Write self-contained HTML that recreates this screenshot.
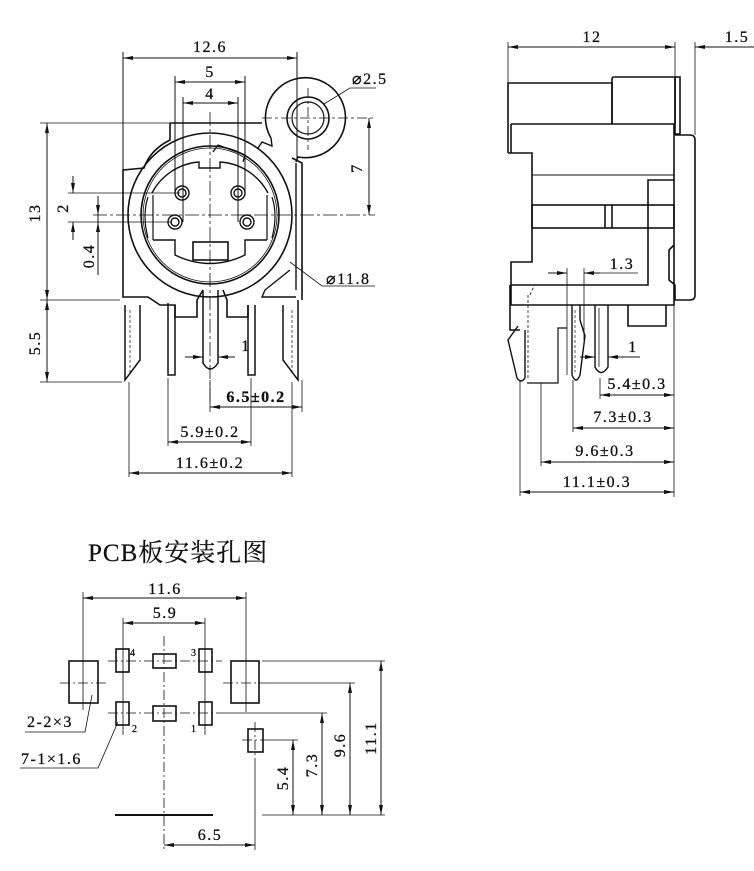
<!DOCTYPE html>
<html><head><meta charset="utf-8"><style>
html,body{margin:0;padding:0;background:#fff;}
svg{display:block}
text{font-family:"Liberation Serif","DejaVu Serif",serif;font-size:16px;fill:#111;letter-spacing:1.5px;stroke:#111;stroke-width:0.3}
</style></head><body>
<svg width="754" height="871" viewBox="0 0 754 871" xmlns="http://www.w3.org/2000/svg">
<defs>
<marker id="a" viewBox="0 0 10 4" refX="10" refY="2" markerWidth="10" markerHeight="4" orient="auto-start-reverse" markerUnits="userSpaceOnUse"><path d="M0,0 L10,2 L0,4z" fill="#111"/></marker>
</defs>
<g stroke="#111" stroke-width="1" fill="none">
<!-- ===== FRONT VIEW ===== -->
<line x1="123" y1="58" x2="297" y2="58" marker-start="url(#a)" marker-end="url(#a)"/>
<line x1="123" y1="52" x2="123" y2="172"/><line x1="297" y1="52" x2="297" y2="160"/>
<line x1="175" y1="82" x2="245" y2="82" marker-start="url(#a)" marker-end="url(#a)"/>
<line x1="183" y1="103" x2="238" y2="103" marker-start="url(#a)" marker-end="url(#a)"/>
<line x1="175" y1="76" x2="175" y2="195"/><line x1="245" y1="76" x2="245" y2="195"/>
<line x1="183" y1="97" x2="183" y2="222"/><line x1="238" y1="97" x2="238" y2="222"/>
<line x1="40" y1="123" x2="173" y2="123" stroke-width="0.8"/>
<line x1="40" y1="300" x2="120" y2="300" stroke-width="0.8"/>
<line x1="40" y1="382" x2="122" y2="382" stroke-width="0.8"/>
<line x1="47" y1="123" x2="47" y2="300" marker-start="url(#a)" marker-end="url(#a)"/>
<line x1="47" y1="300" x2="47" y2="382" marker-start="url(#a)" marker-end="url(#a)"/>
<line x1="68" y1="193" x2="180" y2="193" stroke-width="0.8"/>
<line x1="68" y1="222" x2="172" y2="222" stroke-width="0.8"/>
<line x1="73" y1="176" x2="73" y2="193" marker-end="url(#a)"/>
<line x1="73" y1="240" x2="73" y2="222" marker-end="url(#a)"/>
<line x1="98" y1="196" x2="98" y2="215" marker-end="url(#a)"/>
<line x1="98" y1="232" x2="98" y2="222" marker-end="url(#a)"/>
<line x1="98" y1="215" x2="98" y2="275"/>
<line x1="93" y1="215" x2="375" y2="215" stroke-dasharray="14,3,3,3" stroke-width="0.8"/>
<line x1="210" y1="112" x2="210" y2="405" stroke-dasharray="14,3,3,3" stroke-width="0.8"/>
<line x1="262" y1="118" x2="375" y2="118" stroke-dasharray="10,3,3,3" stroke-width="0.8"/>
<line x1="369" y1="118" x2="369" y2="215" marker-start="url(#a)" marker-end="url(#a)"/>
<line x1="308" y1="88" x2="308" y2="150" stroke-dasharray="10,3,3,3" stroke-width="0.8"/>
<!-- ring -->
<path d="M271,138 A40,40 0 1 1 298,157 L296,162" stroke-width="1.6"/>
<path d="M271,138 L272,146 L262,142 L258,148" stroke-width="1.4"/>
<circle cx="308" cy="118" r="21" stroke-width="1.6"/>
<circle cx="308" cy="118" r="16" stroke-width="1.2"/>
<polyline points="324,104 350,88 376,88" stroke-width="0.8"/>
<!-- body -->
<path d="M170,123 L262,123 M170,123 L170,140 Q150,150 144,168 L123,170 L123,297 L148,297 L160,305 L175,305 L175,317 L197,317 L197,300 L203,290 M223,290 L227,300 L227,317 L248,317 L248,305" stroke-width="1.6"/>
<path d="M292,158 L302,163 L302,300" stroke-width="1.6"/>
<path d="M296,163 L296,290 M290,270 L265,290 L262,297 L296,297" stroke-width="1.4"/>
<circle cx="210" cy="215" r="82" stroke-width="1.6"/>
<circle cx="210" cy="215" r="69" stroke-width="1.6"/>
<circle cx="210" cy="215" r="67" stroke-width="0.8"/>
<path d="M152,193 A58,58 0 0 1 199,162 L199,168 L220,168 L220,162 A58,58 0 0 1 268,193" stroke-width="1.4"/>
<path d="M153,240 L175,240 L175,255 Q210,272 245,255 L245,240 L267,240" stroke-width="1.4"/>
<path d="M153,195 L153,240 M267,195 L267,240 M148,197 Q142,215 148,238 M272,197 Q278,215 272,238" stroke-width="1.2"/>
<path d="M213,152 L218,145 L245,155 L243,162" stroke-width="1.3"/>
<rect x="193" y="242" width="35" height="18" stroke-width="1.6"/>
<g stroke-width="1.4">
<circle cx="182" cy="193" r="7"/><circle cx="182" cy="193" r="4"/>
<circle cx="238" cy="193" r="7"/><circle cx="238" cy="193" r="4"/>
<circle cx="175" cy="222" r="7"/><circle cx="175" cy="222" r="4"/>
<circle cx="247" cy="222" r="7"/><circle cx="247" cy="222" r="4"/>
</g>
<path d="M203,290 L203,363 Q210,375 218,363 L218,290" stroke-width="1.5"/>
<path d="M125,305 L125,380 L140,360 L140,305" stroke-width="1.5"/>
<path d="M168,303 L168,375 L175,375 L175,305" stroke-width="1.5"/>
<path d="M248,305 L248,375 L255,375 L255,305" stroke-width="1.5"/>
<path d="M283,305 L283,360 L298,380 L298,300" stroke-width="1.5"/>
<line x1="130" y1="310" x2="130" y2="375" stroke-dasharray="3,2" stroke-width="0.7"/>
<line x1="292" y1="310" x2="292" y2="375" stroke-dasharray="3,2" stroke-width="0.7"/>
<line x1="185" y1="357" x2="203" y2="357" marker-end="url(#a)"/>
<line x1="235" y1="357" x2="218" y2="357" marker-end="url(#a)"/>
<polyline points="290,262 322,286 375,286" stroke-width="0.8"/>
<line x1="210" y1="380" x2="210" y2="412" stroke-width="0.8"/>
<line x1="302" y1="380" x2="302" y2="412" stroke-width="0.8"/>
<line x1="210" y1="407" x2="302" y2="407" marker-start="url(#a)" marker-end="url(#a)"/>
<line x1="168" y1="378" x2="168" y2="446" stroke-width="0.8"/>
<line x1="251" y1="378" x2="251" y2="446" stroke-width="0.8"/>
<line x1="168" y1="442" x2="251" y2="442" marker-start="url(#a)" marker-end="url(#a)"/>
<line x1="129" y1="382" x2="129" y2="477" stroke-width="0.8"/>
<line x1="292" y1="382" x2="292" y2="477" stroke-width="0.8"/>
<line x1="129" y1="473" x2="292" y2="473" marker-start="url(#a)" marker-end="url(#a)"/>

<!-- ===== SIDE VIEW ===== -->
<line x1="508" y1="47" x2="675" y2="47" marker-start="url(#a)" marker-end="url(#a)"/>
<line x1="508" y1="42" x2="508" y2="83" stroke-width="0.8"/>
<line x1="675" y1="42" x2="675" y2="76" stroke-width="0.8"/>
<line x1="695" y1="42" x2="695" y2="135" stroke-width="0.8"/>
<line x1="754" y1="47" x2="695" y2="47" marker-end="url(#a)"/>
<g stroke-width="1.6">
<path d="M508,153 L508,83 L612,83 L612,124"/>
<path d="M612,124 L612,79 Q612,77 614,77 L675,77 L675,124"/>
<rect x="675" y="77" width="5" height="57"/>
<path d="M511,124 L674,124 L674,285 M511,124 L511,153"/>
<path d="M508,153 L532,153 L532,262 L511,262 L511,285 L648,285 L648,180 L674,180"/>
<path d="M675,135 L690,135 Q695,135 695,140 L695,295 Q695,300 690,300 L675,300 L675,285 L669,280 L669,250 L674,245"/>
<line x1="532" y1="175" x2="674" y2="175" stroke-width="1"/>
<rect x="532" y="205" width="142" height="23"/>
<line x1="605" y1="205" x2="605" y2="228"/><line x1="612" y1="205" x2="612" y2="228"/>
<path d="M511,285 L511,305 L674,305 L674,285"/>
<path d="M510,285 L510,330 L520,330"/>
<path d="M628,305 L628,326 L666,326 L666,305"/>
</g>
<path d="M518,326 L508,340 L517,378 Q521,384 525,378 L525,330" stroke-width="1.4"/>
<path d="M530,295 L532,290 L535,285 M528,295 L528,380" stroke-dasharray="3,2" stroke-width="0.8"/>
<path d="M527,383 L558,383 L558,328 L567,328" stroke-width="1.2"/>
<path d="M572,305 L572,375 Q576,385 580,375 L585,336 L580,320 L580,305" stroke-width="1.4"/>
<path d="M595,305 L595,367 Q601,378 608,367 L608,305" stroke-width="1.4"/>
<line x1="599" y1="308" x2="599" y2="367" stroke-width="0.8"/>
<line x1="575" y1="310" x2="575" y2="372" stroke-dasharray="3,2" stroke-width="0.7"/>
<line x1="567" y1="268" x2="567" y2="375" stroke-width="0.8"/>
<line x1="584" y1="268" x2="584" y2="340" stroke-width="0.8"/>
<line x1="548" y1="273" x2="567" y2="273" marker-end="url(#a)"/>
<line x1="638" y1="273" x2="584" y2="273" stroke-width="0.8"/>
<line x1="600" y1="273" x2="584" y2="273" marker-end="url(#a)"/>
<line x1="580" y1="357" x2="595" y2="357" marker-end="url(#a)"/>
<line x1="640" y1="357" x2="608" y2="357" marker-end="url(#a)"/>
<line x1="674" y1="300" x2="674" y2="497" stroke-width="0.8"/>
<line x1="600" y1="378" x2="600" y2="399" stroke-width="0.8"/>
<line x1="600" y1="395" x2="674" y2="395" marker-start="url(#a)" marker-end="url(#a)"/>
<line x1="573" y1="380" x2="573" y2="432" stroke-width="0.8"/>
<line x1="573" y1="428" x2="674" y2="428" marker-start="url(#a)" marker-end="url(#a)"/>
<line x1="541" y1="383" x2="541" y2="466" stroke-width="0.8"/>
<line x1="541" y1="462" x2="674" y2="462" marker-start="url(#a)" marker-end="url(#a)"/>
<line x1="520" y1="380" x2="520" y2="496" stroke-width="0.8"/>
<line x1="520" y1="492" x2="674" y2="492" marker-start="url(#a)" marker-end="url(#a)"/>

<!-- ===== PCB VIEW ===== -->
<line x1="83" y1="598" x2="246" y2="598" marker-start="url(#a)" marker-end="url(#a)"/>
<line x1="83" y1="592" x2="83" y2="710" stroke-width="0.8"/>
<line x1="246" y1="592" x2="246" y2="712" stroke-width="0.8"/>
<line x1="123" y1="623" x2="205" y2="623" marker-start="url(#a)" marker-end="url(#a)"/>
<line x1="123" y1="618" x2="123" y2="735" stroke-width="0.8"/>
<line x1="205" y1="618" x2="205" y2="735" stroke-width="0.8"/>
<g stroke-width="1.6">
<rect x="69" y="661" width="29" height="42"/>
<rect x="231" y="661" width="28" height="42"/>
<rect x="116" y="649" width="13" height="23"/>
<rect x="199" y="649" width="13" height="23"/>
<rect x="153" y="654" width="23" height="14"/>
<rect x="116" y="702" width="13" height="23"/>
<rect x="199" y="702" width="13" height="23"/>
<rect x="153" y="706" width="23" height="15"/>
<rect x="248" y="729" width="15" height="23"/>
</g>
<g stroke-width="0.8" stroke-dasharray="10,3,2,3">
<line x1="108" y1="661" x2="222" y2="661"/>
<line x1="60" y1="683" x2="108" y2="683"/>
<line x1="223" y1="683" x2="268" y2="683"/>
<line x1="108" y1="713" x2="222" y2="713"/>
<line x1="242" y1="740" x2="268" y2="740"/>
<line x1="164" y1="636" x2="164" y2="850"/>
<line x1="255" y1="722" x2="255" y2="760"/>
</g>
<line x1="222" y1="713" x2="327" y2="713" stroke-width="0.8"/>
<line x1="268" y1="740" x2="298" y2="740" stroke-width="0.8"/>
<line x1="268" y1="683" x2="355" y2="683" stroke-width="0.8"/>
<line x1="262" y1="661" x2="385" y2="661" stroke-width="0.8"/>
<line x1="262" y1="815" x2="385" y2="815" stroke-width="0.8"/>
<line x1="115" y1="815" x2="213" y2="815" stroke-width="2"/>
<line x1="293" y1="740" x2="293" y2="815" marker-start="url(#a)" marker-end="url(#a)"/>
<line x1="322" y1="713" x2="322" y2="815" marker-start="url(#a)" marker-end="url(#a)"/>
<line x1="350" y1="683" x2="350" y2="815" marker-start="url(#a)" marker-end="url(#a)"/>
<line x1="381" y1="661" x2="381" y2="815" marker-start="url(#a)" marker-end="url(#a)"/>
<line x1="255" y1="760" x2="255" y2="850" stroke-width="0.8"/>
<line x1="164" y1="845" x2="255" y2="845" marker-start="url(#a)" marker-end="url(#a)"/>
<polyline points="25,732 85,732 92,695" stroke-width="0.8"/>
<polyline points="20,768 98,768 118,722" stroke-width="0.8"/>
</g>
<text x="210" y="52" text-anchor="middle">12.6</text>
<text x="210" y="77" text-anchor="middle">5</text>
<text x="210" y="99" text-anchor="middle">4</text>
<text x="352" y="84">⌀2.5</text>
<text transform="translate(40,213) rotate(-90)" text-anchor="middle">13</text>
<text transform="translate(40,343) rotate(-90)" text-anchor="middle">5.5</text>
<text transform="translate(68,208) rotate(-90)" text-anchor="middle">2</text>
<text transform="translate(94,256) rotate(-90)" text-anchor="middle">0.4</text>
<text transform="translate(362,168) rotate(-90)" text-anchor="middle">7</text>
<text x="326" y="284">⌀11.8</text>
<text x="246" y="351" text-anchor="middle">1</text>
<text x="256" y="402" text-anchor="middle" font-weight="bold">6.5±0.2</text>
<text x="210" y="437" text-anchor="middle">5.9±0.2</text>
<text x="210" y="468" text-anchor="middle">11.6±0.2</text>
<text x="592" y="42" text-anchor="middle">12</text>
<text x="737" y="42" text-anchor="middle">1.5</text>
<text x="622" y="269" text-anchor="middle">1.3</text>
<text x="633" y="352" text-anchor="middle">1</text>
<text x="637" y="389" text-anchor="middle">5.4±0.3</text>
<text x="623" y="422" text-anchor="middle">7.3±0.3</text>
<text x="605" y="456" text-anchor="middle">9.6±0.3</text>
<text x="597" y="487" text-anchor="middle">11.1±0.3</text>
<text x="88" y="561" style="font-family:'Liberation Serif','Noto Serif CJK SC',serif;font-size:25px;letter-spacing:1px;stroke-width:0.2">PCB板安装孔图</text>
<text x="165" y="594" text-anchor="middle">11.6</text>
<text x="165" y="618" text-anchor="middle">5.9</text>
<text x="130" y="656" style="font-size:10px;letter-spacing:0">4</text>
<text x="191" y="656" style="font-size:10px;letter-spacing:0">3</text>
<text x="132" y="732" style="font-size:10px;letter-spacing:0">2</text>
<text x="191" y="732" style="font-size:10px;letter-spacing:0">1</text>
<text x="27" y="727">2-2×3</text>
<text x="21" y="764">7-1×1.6</text>
<text transform="translate(288,778) rotate(-90)" text-anchor="middle">5.4</text>
<text transform="translate(317,765) rotate(-90)" text-anchor="middle">7.3</text>
<text transform="translate(345,745) rotate(-90)" text-anchor="middle">9.6</text>
<text transform="translate(376,738) rotate(-90)" text-anchor="middle">11.1</text>
<text x="210" y="840" text-anchor="middle">6.5</text>
</svg>
</body></html>
